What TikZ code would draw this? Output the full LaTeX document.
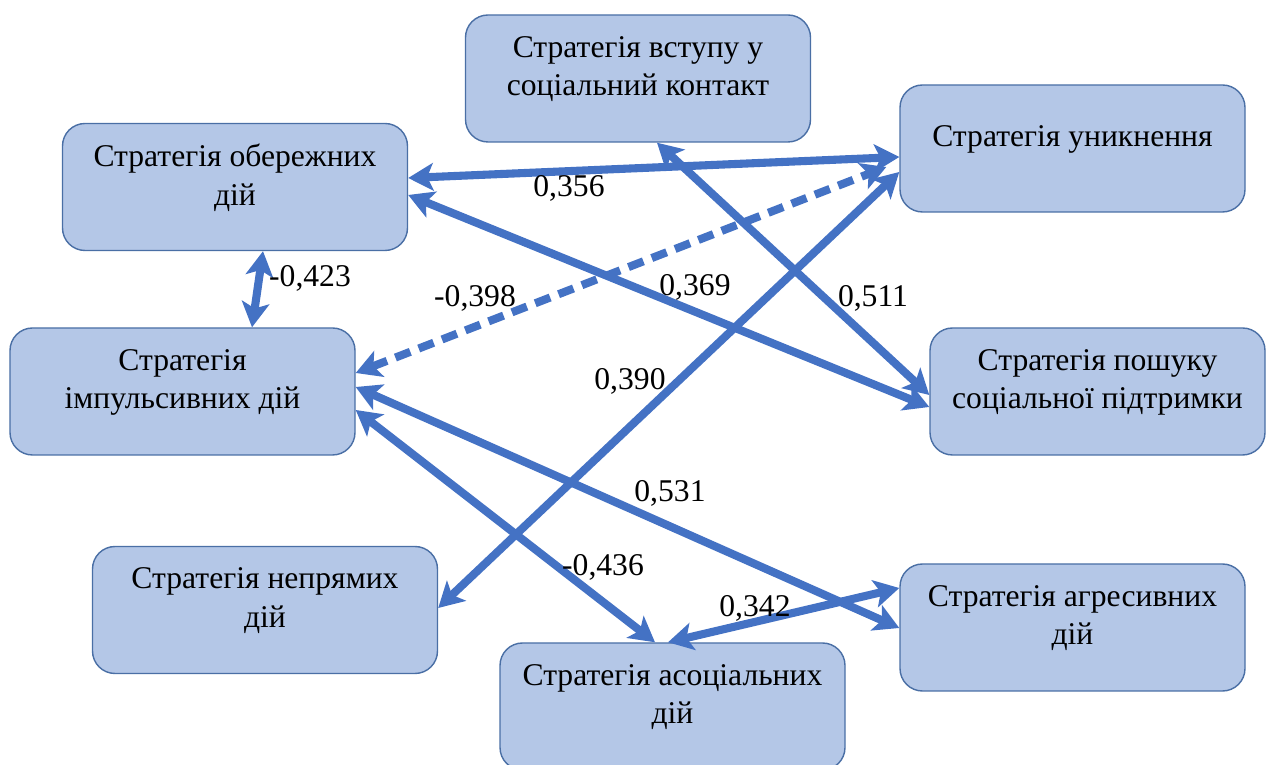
\documentclass[tikz,border=0pt]{standalone}
\usepackage{fontspec}
\setmainfont{Liberation Serif}
\newfontfamily\timesfont{Liberation Serif}
\usepackage{xcolor}
\usetikzlibrary{arrows.meta, positioning, calc}
\definecolor{boxfill}{HTML}{B4C7E7}
\definecolor{boxline}{HTML}{4A6FA5}
\definecolor{linkblue}{HTML}{4472C4}

\begin{document}
\begin{tikzpicture}[
    strategy/.style={draw=boxline, line width=0.8pt, rounded corners=0.45cm, fill=boxfill, minimum width=6.9cm, minimum height=2.54cm, align=center, font=\timesfont\fontsize{18}{22}\selectfont, text depth=0.5cm},
    link/.style={line width=4.6pt, draw=linkblue, {Stealth[length=0.5cm,width=0.55cm,inset=0.12cm]}-{Stealth[length=0.5cm,width=0.55cm,inset=0.12cm]}},
    coef/.style={font=\timesfont\fontsize{18}{22}\selectfont, inner sep=1pt}
]
    \useasboundingbox (0,0) rectangle (25.34,15.3);

    % Strategies
    \node[strategy] (contact) at (12.76,13.73) {Стратегія вступу у\\соціальний контакт};
    \node[strategy] (avoid) at (21.45,12.33) {Стратегія уникнення};
    \node[strategy] (caut) at (4.70,11.56) {Стратегія обережних\\дій};
    \node[strategy] (impul) at (3.65,7.47) {Стратегія\\імпульсивних дій};
    \node[strategy, minimum width=6.7cm] (support) at (21.95,7.47) {Стратегія пошуку\\соціальної підтримки};
    \node[strategy] (indirect) at (5.30,3.10) {Стратегія непрямих\\дій};
    \node[strategy] (asocial) at (13.45,1.17) {Стратегія асоціальних\\дій};
    \node[strategy] (aggr) at (21.45,2.75) {Стратегія агресивних\\дій};

    % Correlations
    \draw[link] ([yshift=0.18cm]caut.east) -- ([yshift=-0.17cm]avoid.west);
    \draw[link] ([xshift=0.56cm]caut.south) -- ([xshift=1.39cm]impul.north);
    \draw[link, dash pattern=on 0.32cm off 0.18cm] ([yshift=0.37cm]impul.east) -- ([xshift=-0.26cm,yshift=-0.37cm]avoid.west);
    \draw[link] ([yshift=-0.16cm]caut.east) -- ([yshift=-0.31cm]support.west);
    \draw[link] ([xshift=0.38cm]contact.south) -- ([yshift=-0.07cm]support.west);
    \draw[link] ([yshift=-0.47cm]avoid.west) -- ([yshift=0.04cm]indirect.east);
    \draw[link] ([yshift=0.09cm]impul.east) -- ([yshift=-0.01cm]aggr.west);
    \draw[link] ([yshift=-0.37cm]impul.east) -- ([xshift=-0.35cm]asocial.north);
    \draw[link] ([xshift=-0.09cm]asocial.north) -- ([yshift=0.79cm]aggr.west);

    % Coefficients
    \node[coef] (r356) at (11.38,11.54) {0,356};
    \node[coef] (r423) at (6.20,9.74) {-0,423};
    \node[coef] (r398) at (9.50,9.34) {-0,398};
    \node[coef] (r369) at (13.90,9.56) {0,369};
    \node[coef] (r511) at (17.46,9.34) {0,511};
    \node[coef] (r390) at (12.60,7.68) {0,390};
    \node[coef] (r531) at (13.40,5.44) {0,531};
    \node[coef] (r436) at (12.06,3.96) {-0,436};
    \node[coef] (r342) at (15.10,3.14) {0,342};
\end{tikzpicture}
\end{document}
